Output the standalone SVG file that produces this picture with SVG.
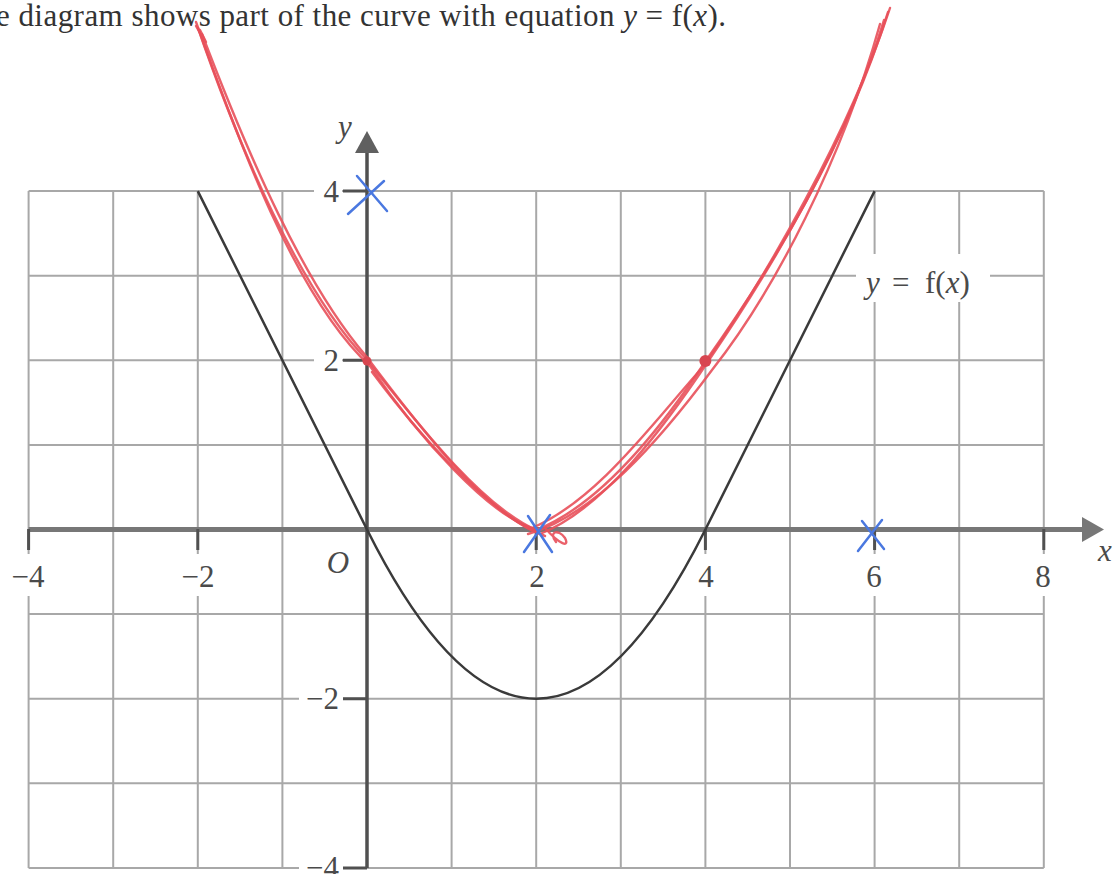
<svg xmlns="http://www.w3.org/2000/svg" width="1116" height="874" viewBox="0 0 1116 874">
<style>
.grid{stroke:#a8a8a8;stroke-width:2;fill:none}
.lbl{font-family:"Liberation Serif",serif;font-size:31px;fill:#4a4a4a}
.it{font-style:italic}
.tick{stroke:#505050;stroke-width:3}
.red{stroke:#e8505a;stroke-width:2.4;fill:none;stroke-linecap:round;opacity:0.9}
.blue{stroke:#4a78e0;stroke-width:2.5;stroke-linecap:round}
.bg{fill:#fff}
</style>
<rect width="1116" height="874" fill="#fff"/>
<text x="-4" y="26" font-family="Liberation Serif, serif" font-size="31" fill="#333" textLength="730" lengthAdjust="spacing">e diagram shows part of the curve with equation <tspan font-style="italic">y</tspan> = f(<tspan font-style="italic">x</tspan>).</text>
<g id="grid" class="grid">
<path d="M28.6 191.1V867.9M113.2 191.1V867.9M197.8 191.1V867.9M282.4 191.1V867.9M451.6 191.1V867.9M536.2 191.1V867.9M620.8 191.1V867.9M705.4 191.1V867.9M790 191.1V867.9M874.6 191.1V867.9M959.2 191.1V867.9M1043.8 191.1V867.9"/>
<path d="M28.6 191.1H1043.8M28.6 275.7H1043.8M28.6 360.3H1043.8M28.6 444.9H1043.8M28.6 614.1H1043.8M28.6 698.7H1043.8M28.6 783.3H1043.8M28.6 867.9H1043.8"/>
</g>
<g id="label-backgrounds" class="bg">
<rect x="6" y="554" width="46" height="42"/>
<rect x="176" y="554" width="44" height="42"/>
<rect x="518" y="554" width="38" height="42"/>
<rect x="687" y="554" width="38" height="42"/>
<rect x="856" y="554" width="38" height="42"/>
<rect x="1025" y="554" width="38" height="42"/>
<rect x="314" y="176" width="28" height="30"/>
<rect x="314" y="345" width="28" height="30"/>
<rect x="299" y="683" width="44" height="30"/>
<rect x="299" y="852" width="44" height="30"/>
<rect x="856" y="254" width="134" height="48"/>
</g>
<g id="axes">
<line x1="28.6" y1="529.5" x2="1085" y2="529.5" stroke="#777" stroke-width="5"/>
<polygon points="1104,529.5 1082,517 1082,542" fill="#777"/>
<line x1="367" y1="868" x2="367" y2="150" stroke="#505050" stroke-width="3.5"/>
<polygon points="367,131 355,153 379,153" fill="#606060"/>
<path class="tick" d="M28.6 529V550M197.8 529V550M536.2 529V550M705.4 529V550M874.6 529V550M1043.8 529V550"/>
<path class="tick" d="M343 191.1H367M343 360.3H367M343 698.7H367M343 867.9H367"/>
</g>
<g id="labels" class="lbl">
<text x="28" y="587" text-anchor="middle">−4</text>
<text x="198" y="587" text-anchor="middle">−2</text>
<text x="338" y="573" text-anchor="middle" class="it">O</text>
<text x="537" y="587" text-anchor="middle">2</text>
<text x="706" y="587" text-anchor="middle">4</text>
<text x="874" y="587" text-anchor="middle">6</text>
<text x="1043" y="587" text-anchor="middle">8</text>
<text x="1105" y="561" text-anchor="middle" class="it">x</text>
<text x="339" y="202" text-anchor="end">4</text>
<text x="339" y="371" text-anchor="end">2</text>
<text x="339" y="709" text-anchor="end">−2</text>
<text x="339" y="878" text-anchor="end">−4</text>
<text x="345" y="137" text-anchor="middle" class="it">y</text>
</g>
<g id="curve-f">
<path d="M197.8 191.1L367 529.5Q536.2 867.9 705.4 529.5L874.6 191.1" stroke="#3a3a3a" stroke-width="2.5" fill="none"/>
<text y="293" class="lbl" font-size="33"><tspan x="866" class="it">y</tspan><tspan x="892">=</tspan><tspan x="925">f(<tspan class="it">x</tspan>)</tspan></text>
</g>
<g id="red-sketch">
<path class="red" d="M198 28C240 150 300 290 367 360C415 420 480 505 536 530C600 505 660 430 705 362C770 270 845 150 888 12"/>
<path class="red" d="M202 34C250 160 305 285 366 356C420 428 485 512 540 534C605 508 665 426 709 360C772 268 848 140 884 20"/>
<path class="red" d="M196 22C238 140 296 298 370 366C420 440 490 515 532 528C598 500 655 420 702 368C768 275 850 130 890 8"/>
<path class="red" d="M372 372C430 450 500 520 545 536M528 534C595 515 660 440 712 370C775 290 842 160 880 24"/>
<path class="red" d="M545 528C560 545 570 548 565 538C558 528 548 532 556 542"/>
<path class="red" d="M200 30L206 42M196 26L204 40"/>
<circle cx="367" cy="361" r="4.5" fill="#d84650"/>
<circle cx="705.4" cy="361" r="6" fill="#d84650"/>
</g>
<g id="blue-marks" class="blue">
<path d="M357 176L387 211M348 214L384 181"/>
<path d="M524 552L550 515M528 516L552 552"/>
<path d="M858 551L882 520M862 521L884 549"/>
</g>
</svg>
